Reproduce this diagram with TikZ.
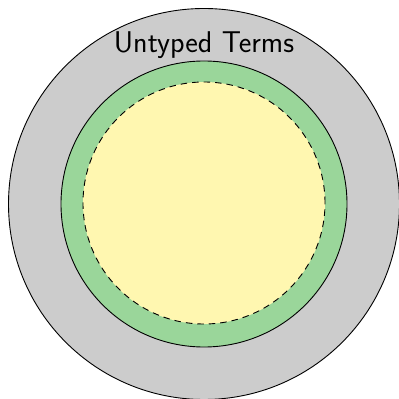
\documentclass[tikz,border=0pt]{standalone}
\definecolor{outergray}{RGB}{204,204,204}
\definecolor{midgreen}{RGB}{154,214,154}
\definecolor{inneryellow}{RGB}{255,247,176}
\tikzset{
  ring/.style={draw=black, line width=0.9pt},
  lbl/.style={font=\sffamily\fontsize{30}{36}\selectfont, inner sep=0pt, anchor=base}
}
\begin{document}
\begin{tikzpicture}[x=1pt,y=1pt]
\useasboundingbox (0,0) rectangle (399,399);
\coordinate (c) at (204,195);
\draw[ring, fill=outergray] (c) circle (195.5);
\draw[ring, fill=midgreen] (c) circle (143);
\draw[ring, dash pattern=on 6.5pt off 5pt, fill=inneryellow] (204,196) circle (121);
\node[lbl] (t) at (204,346) {Untyped Terms};
\end{tikzpicture}
\end{document}
